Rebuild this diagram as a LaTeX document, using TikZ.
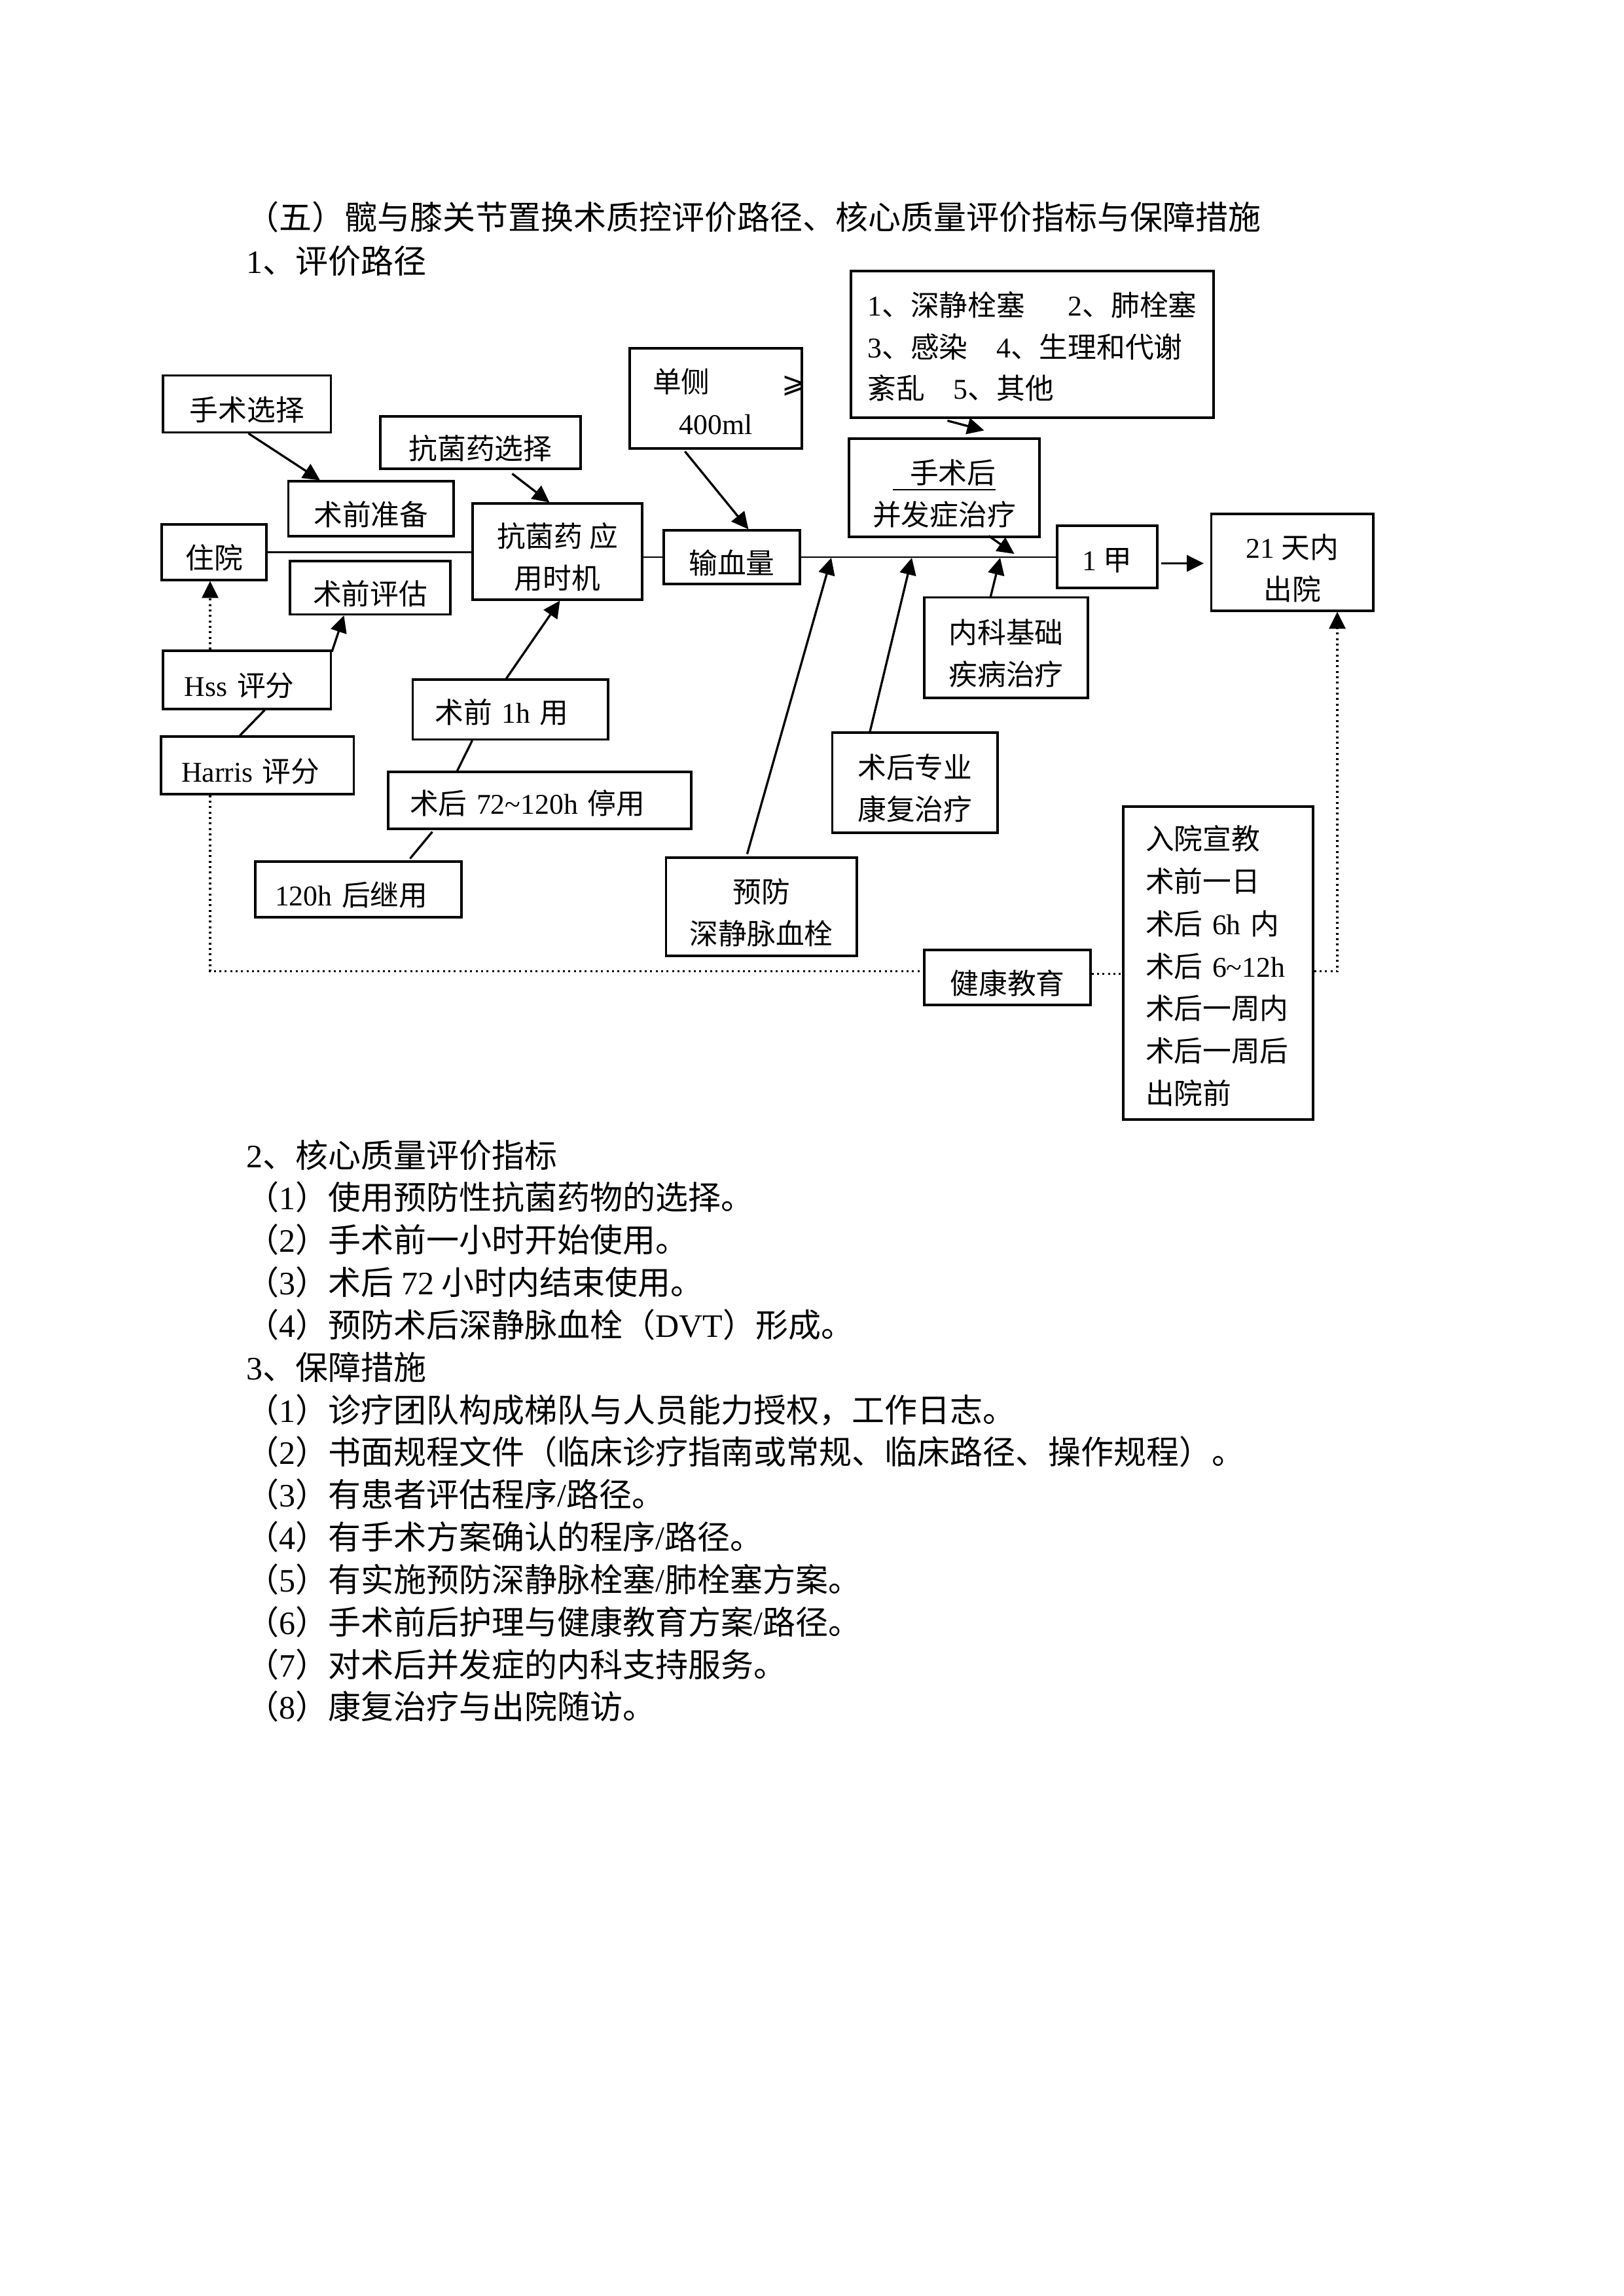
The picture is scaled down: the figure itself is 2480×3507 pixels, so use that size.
\documentclass[tikz,border=0pt]{standalone}
\usepackage{fontspec}
\setmainfont{Noto Sans CJK SC}
\newfontfamily\latf{Liberation Serif}
\newfontfamily\symfnt{DejaVu Sans}
\usetikzlibrary{arrows.meta,calc}
\newcommand\ltn[1]{{\latf #1}}
\newcommand\tsa{\rule{0pt}{13pt}}
\newcommand\tsb{\rule{0pt}{11pt}}
\begin{document}
\begin{tikzpicture}[x=0.24003pt,y=-0.24003pt,
  box/.style={draw, line width=0.75pt, inner sep=0pt, align=center, font=\fontsize{10.5}{15.3}\selectfont},
  lbox/.style={box, align=left},
  conn/.style={line width=0.8pt},
  arr/.style={conn, -{Triangle[length=6.2pt,width=6pt]}},
  dots/.style={line width=0.75pt, dash pattern=on 0.75pt off 1.25pt},
  txt/.style={anchor=base west, inner sep=0pt, font=\fontsize{12}{15.56}\selectfont}]
\useasboundingbox (0,0) rectangle (2480,3507);

% headings
\node[txt] (title) at (376,350) {（五）髋与膝关节置换术质控评价路径、核心质量评价指标与保障措施};
\node[txt] (sec1) at (376,417) {\ltn{1}、评价路径};

% boxes
\node[box, minimum width=61.57pt, minimum height=20.79pt] (ssxz) at (377.3,617.1) {\tsa 手术选择};
\node[box, minimum width=73.45pt, minimum height=19.20pt] (kjyxz) at (734,676) {\tsa 抗菌药选择};
\node[box, minimum width=63.13pt, minimum height=36.72pt, text width=46.33pt, inner xsep=8.4pt] (dc) at (1093.5,608.5)
  {\tsb\makebox[46.33pt]{单侧\hfill\makebox[0pt][l]{\kern1pt{\symfnt ⩾}}}\\\ltn{400ml}};
\node[box, align=left, minimum width=132.98pt, minimum height=53.77pt] (bfz) at (1577,526)
  {\rule{0pt}{10.5pt}\ltn{1}、深静栓塞\hspace{1.5em}\ltn{2}、肺栓塞\\\ltn{3}、感染\hspace{1em}\ltn{4}、生理和代谢\\紊乱\hspace{1em}\ltn{5}、其他};
\node[box, minimum width=60.61pt, minimum height=20.16pt] (sqzb) at (566.75,777) {\tsa 术前准备};
\node[box, minimum width=38.40pt, minimum height=20.40pt] (zy) at (327,843.5) {\tsa 住院};
\node[box, minimum width=62.17pt, minimum height=35.28pt] (kjsj) at (851.5,842.5) {\tsa 抗菌药 应\\用时机};
\node[box, minimum width=49.93pt, minimum height=19.68pt] (sxl) at (1118,851) {\tsa 输血量};
\node[box, minimum width=69.85pt, minimum height=36.00pt] (ssh) at (1442.5,745) {\tsa\underline{\hspace{0.6em}手术后}\\并发症治疗};
\node[box, minimum width=36.72pt, minimum height=22.80pt] (yj) at (1691.5,850.5) {\tsb\ltn{1} 甲};
\node[box, minimum width=59.41pt, minimum height=35.52pt] (cy) at (1974.25,859) {\tsa\ltn{21} 天内\\出院};
\node[box, minimum width=58.81pt, minimum height=19.56pt] (sqpg) at (565.5,897.75) {\tsa 术前评估};
\node[box, minimum width=60.01pt, minimum height=36.82pt] (nk) at (1537,989.3) {\tsa 内科基础\\疾病治疗};
\node[lbox, minimum width=61.57pt, minimum height=21.36pt, text width=45.73pt, inner xsep=7.92pt] (hss) at (377.25,1038.5) {\tsa\ltn{Hss} 评分};
\node[lbox, minimum width=70.71pt, minimum height=21.12pt, text width=55.83pt, inner xsep=7.44pt] (harris) at (393.3,1169) {\tsa\ltn{Harris} 评分};
\node[lbox, minimum width=71.65pt, minimum height=21.96pt, text width=55.33pt, inner xsep=8.16pt] (sq1h) at (779.75,1083.75) {\tsb 术前 \ltn{1h} 用};
\node[lbox, minimum width=111.13pt, minimum height=20.88pt, text width=95.29pt, inner xsep=7.92pt] (sh72) at (824.5,1222.5) {\tsb 术后 \ltn{72\textasciitilde120h} 停用};
\node[lbox, minimum width=75.61pt, minimum height=20.40pt, text width=61.21pt, inner xsep=7.2pt] (h120) at (547.5,1358.5) {\tsa\ltn{120h} 后继用};
\node[box, minimum width=60.58pt, minimum height=36.72pt] (shzy) at (1397.8,1195.5) {\tsa 术后专业\\康复治疗};
\node[box, minimum width=69.94pt, minimum height=36.00pt] (yf) at (1163.3,1385) {\tsa 预防\\深静脉血栓};
\node[box, minimum width=60.97pt, minimum height=20.16pt] (jkjy) at (1539,1493) {\tsa 健康教育};
\node[lbox, font=\fontsize{10.5}{15.55}\selectfont, minimum width=69.61pt, minimum height=114.73pt, text width=53.29pt, inner xsep=8.16pt] (rybox) at (1861,1471)
  {\tsb 入院宣教\\术前一日\\术后 \ltn{6h} 内\\术后 \ltn{6\textasciitilde12h}\\术后一周内\\术后一周后\\出院前};

% helper coordinates
\coordinate (dx) at (321,0);
\coordinate (dr) at (2043,0);
\coordinate (p1) at (1270,852);
\coordinate (p2) at (1393,852);
\coordinate (p3) at (1528,852);
\coordinate (p4) at (1549.5,846);

% main line
\draw[line width=0.6pt] (zy.east) -- (zy.east -| kjsj.west);
\draw[line width=0.6pt] (kjsj.east |- sxl.west) -- (sxl.west);
\draw[line width=0.6pt] (sxl.east) -- (sxl.east -| yj.west);

% connectors
\draw[arr] ($(ssxz.south west)+(132,0)$) -- ($(sqzb.north west)+(50,0)$);
\draw[arr] ($(kjyxz.south west)+(203,6)$) -- ($(kjsj.north west)+(119,0)$);
\draw[arr] ($(dc.south west)+(86,3)$) -- ($(sxl.north west)+(131,0)$);
\draw[arr] ($(bfz.south west)+(149,3)$) -- ($(ssh.north west)+(208,-11)$);
\draw[arr] ($(ssh.south west)+(215,-3)$) -- (p4);
\coordinate (ye) at ([yshift=-2.4pt,xshift=1pt]yj.east);
\draw[arr, shorten >=2.4pt] (ye) -- (ye -| cy.west);
\draw[arr] ($(hss.north east)+(0,3)$) -- ($(sqpg.south west)+(84,0)$);
\draw[conn] ($(hss.south west)+(157,0)$) -- ($(harris.north west)+(122,0)$);
\draw[arr] ($(sq1h.north west)+(144.5,0)$) -- ($(kjsj.south west)+(135,0)$);
\draw[conn] ($(sq1h.south west)+(92.5,0)$) -- ($(sh72.north west)+(107,0)$);
\draw[conn] ($(sh72.south west)+(69,3)$) -- ($(h120.north west)+(238,-3)$);
\draw[arr] ($(yf.north west)+(125.4,-4)$) -- (p1);
\draw[arr] ($(shzy.north west)+(59,0)$) -- (p2);
\draw[arr] ($(nk.north west)+(103,0)$) -- (p3);

% dotted connectors
\draw[dots, -{Triangle[length=6.2pt,width=6pt]}] (hss.north -| dx) -- (zy.south -| dx);
\coordinate (jw) at ([yshift=2.2pt]jkjy.west);
\draw[dots] (harris.south -| dx) |- (jw);
\coordinate (je) at ([yshift=1.3pt]jkjy.east);
\draw[dots] (je) -- (je -| rybox.west);
\coordinate (re) at ([yshift=-3.1pt]rybox.east);
\draw[dots, -{Triangle[length=6.2pt,width=6pt]}] (re) -| (cy.south -| dr);

% lower text
\node[txt] (t0) at (376,1783) {\ltn{2}、核心质量评价指标};
\node[txt] (t1) at (376,1847.8) {（\ltn{1}）使用预防性抗菌药物的选择。};
\node[txt] (t2) at (376,1912.7) {（\ltn{2}）手术前一小时开始使用。};
\node[txt] (t3) at (376,1977.5) {（\ltn{3}）术后 \ltn{72} 小时内结束使用。};
\node[txt] (t4) at (376,2042.4) {（\ltn{4}）预防术后深静脉血栓（\ltn{DVT}）形成。};
\node[txt] (t5) at (376,2107.2) {\ltn{3}、保障措施};
\node[txt] (t6) at (376,2172) {（\ltn{1}）诊疗团队构成梯队与人员能力授权，工作日志。};
\node[txt] (t7) at (376,2236.9) {（\ltn{2}）书面规程文件（临床诊疗指南或常规、临床路径、操作规程）。};
\node[txt] (t8) at (376,2301.7) {（\ltn{3}）有患者评估程序\ltn{/}路径。};
\node[txt] (t9) at (376,2366.6) {（\ltn{4}）有手术方案确认的程序\ltn{/}路径。};
\node[txt] (t10) at (376,2431.4) {（\ltn{5}）有实施预防深静脉栓塞\ltn{/}肺栓塞方案。};
\node[txt] (t11) at (376,2496.2) {（\ltn{6}）手术前后护理与健康教育方案\ltn{/}路径。};
\node[txt] (t12) at (376,2561.1) {（\ltn{7}）对术后并发症的内科支持服务。};
\node[txt] (t13) at (376,2625.9) {（\ltn{8}）康复治疗与出院随访。};
\end{tikzpicture}
\end{document}
